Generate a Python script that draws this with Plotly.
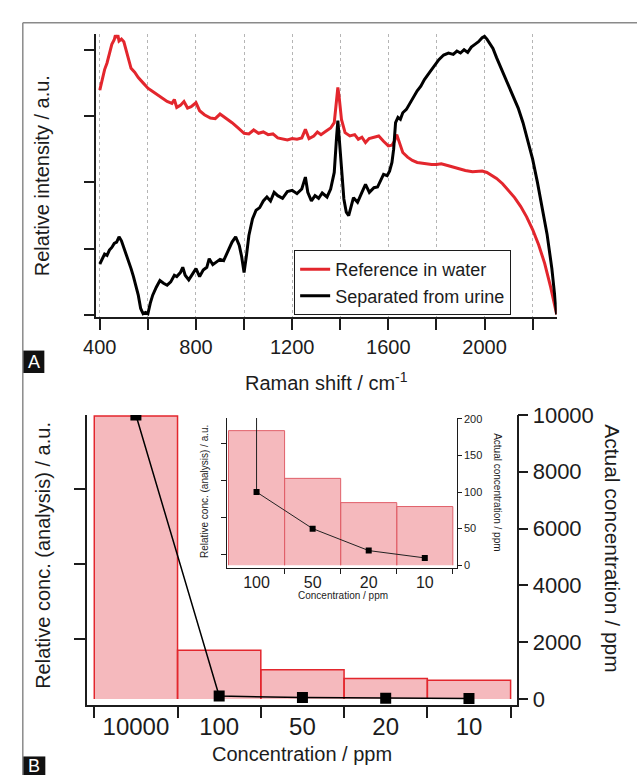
import plotly.graph_objects as go

# ---------------- data ----------------
# Panel A: Raman spectra (relative intensity, a.u.)
ref_x = [400, 410, 420, 430, 440, 450, 460, 465, 470, 475, 480, 490, 500, 510, 520, 530, 545, 560, 580, 600,
         620, 640, 660, 680, 700, 710, 720, 735, 750, 765, 780, 800, 815, 835, 860, 880, 900, 920, 950, 975,
         1000, 1020, 1040, 1060, 1080, 1100, 1120, 1140, 1160, 1180, 1200, 1220, 1240, 1255, 1270, 1290, 1305,
         1320, 1340, 1360, 1375, 1385, 1390, 1395, 1405, 1420, 1440, 1460, 1475, 1490, 1505, 1520, 1545, 1560,
         1580, 1600, 1615, 1625, 1635, 1645, 1660, 1680, 1700, 1720, 1750, 1780, 1800, 1820, 1850, 1880, 1900,
         1920, 1950, 1970, 1990, 2010, 2030, 2050, 2075, 2100, 2125, 2150, 2175, 2200, 2225, 2250, 2275, 2300]
ref_y = [3.39, 3.55, 3.70, 3.80, 3.95, 4.08, 4.15, 4.22, 4.18, 4.22, 4.13, 4.16, 4.12, 3.98, 3.85, 3.72, 3.66, 3.58, 3.50, 3.42,
         3.37, 3.32, 3.26, 3.22, 3.19, 3.25, 3.13, 3.16, 3.22, 3.12, 3.14, 3.20, 3.08, 3.02, 2.97, 2.96, 3.03, 2.98, 2.90, 2.82,
         2.74, 2.73, 2.79, 2.74, 2.76, 2.72, 2.73, 2.67, 2.65, 2.64, 2.66, 2.65, 2.67, 2.80, 2.66, 2.70, 2.76,
         2.72, 2.77, 2.82, 2.90, 3.30, 3.43, 3.30, 2.95, 2.75, 2.70, 2.72, 2.65, 2.68, 2.60, 2.66, 2.68, 2.70,
         2.62, 2.55, 2.56, 2.62, 2.72, 2.60, 2.45, 2.38, 2.33, 2.30, 2.28, 2.27, 2.27, 2.28, 2.25, 2.22, 2.19,
         2.18, 2.16, 2.17, 2.17, 2.15, 2.11, 2.06, 1.98, 1.88, 1.77, 1.64, 1.48, 1.29, 1.06, 0.78, 0.42, 0.01]

urine_x = [400, 410, 420, 430, 440, 450, 460, 470, 480, 490, 500, 510, 520, 530, 540, 550, 560, 570, 580, 590,
           600, 610, 620, 635, 650, 665, 680, 695, 710, 720, 735, 745, 755, 770, 785, 800, 815, 830, 845, 855,
           870, 885, 900, 915, 930, 950, 965, 980, 990, 1000, 1010, 1020, 1035, 1050, 1065, 1080, 1095, 1110,
           1125, 1140, 1160, 1180, 1200, 1220, 1240, 1255, 1265, 1280, 1295, 1310, 1325, 1345, 1360, 1375, 1385,
           1390, 1395, 1405, 1415, 1425, 1435, 1455, 1472, 1490, 1505, 1521, 1540, 1555, 1570, 1580, 1595, 1605,
           1615, 1622, 1630, 1640, 1650, 1660, 1675, 1690, 1705, 1720, 1735, 1750, 1770, 1790, 1810, 1830, 1850,
           1870, 1885, 1900, 1915, 1930, 1945, 1960, 1975, 1990, 2000, 2010, 2020, 2035, 2050, 2065, 2080, 2100,
           2120, 2140, 2160, 2180, 2200, 2220, 2240, 2260, 2280, 2300]
urine_y = [0.77, 0.86, 0.92, 0.90, 0.98, 1.02, 1.08, 1.10, 1.18, 1.12, 1.02, 0.92, 0.82, 0.70, 0.58, 0.44, 0.30, 0.10, 0.02, 0.04,
           0.02, 0.18, 0.30, 0.42, 0.52, 0.48, 0.45, 0.50, 0.60, 0.58, 0.64, 0.72, 0.60, 0.53, 0.62, 0.70, 0.58, 0.68, 0.72, 0.85,
           0.76, 0.80, 0.84, 0.82, 0.95, 1.10, 1.18, 1.05, 0.88, 0.64, 0.90, 1.20, 1.45, 1.58, 1.62, 1.72, 1.78, 1.72,
           1.85, 1.80, 1.76, 1.86, 1.88, 1.83, 1.90, 2.08, 1.85, 1.72, 1.80, 1.76, 1.84, 1.78, 1.90, 2.15, 2.70,
           2.93, 2.70, 2.20, 1.75, 1.55, 1.50, 1.77, 1.70, 1.85, 1.97, 1.85, 1.92, 1.93, 2.05, 2.12, 2.10, 2.17,
           2.30, 2.50, 2.90, 2.98, 2.95, 3.05, 3.10, 3.20, 3.30, 3.38, 3.45, 3.55, 3.65, 3.75, 3.85, 3.92, 3.95,
           3.93, 3.98, 3.95, 4.00, 3.96, 4.04, 4.08, 4.12, 4.18, 4.20, 4.16, 4.10, 4.02, 3.88, 3.75, 3.62, 3.45,
           3.28, 3.12, 2.90, 2.62, 2.35, 2.00, 1.62, 1.22, 0.70, 0.01]

x_major_a = [400, 800, 1200, 1600, 2000]
x_minor_a = [600, 1000, 1400, 1800, 2200]

# Panel B: concentration series
conc_labels = ["10000", "100", "50", "20", "10"]
rel_conc = [1.0, 0.172, 0.103, 0.072, 0.066]          # relative conc. (analysis) / a.u.
actual_conc = [10000, 100, 50, 20, 10]                # actual concentration / ppm
inset_labels = ["100", "50", "20", "10"]
inset_rel_conc = [0.172, 0.111, 0.080, 0.075]
right_ticks = [0, 2000, 4000, 6000, 8000, 10000]
inset_right_ticks = [0, 50, 100, 150, 200]

# ---------------- layout helpers ----------------
W, H = 637, 782
FONT = "Liberation Sans, Arial, sans-serif"
INK = "#1c1c1c"
RED = "#e3262d"
PINK = "#f5b9bd"


def px(x):
    return x / W


def py(y):
    return 1 - y / H


fig = go.Figure()

# ----- Panel A -----
fig.add_trace(go.Scatter(x=ref_x, y=ref_y, mode="lines", name="Reference in water",
                         line=dict(color=RED, width=3), xaxis="x", yaxis="y"))
fig.add_trace(go.Scatter(x=urine_x, y=urine_y, mode="lines", name="Separated from urine",
                         line=dict(color="#000000", width=3), xaxis="x", yaxis="y"))

# ----- Panel B main -----
idx = list(range(len(conc_labels)))


def outline(values):
    xs, ys = [], []
    for i, v in enumerate(values):
        xs += [i - 0.5, i - 0.5, i + 0.5, i + 0.5, None]
        ys += [0, v, v, 0, None]
    return xs, ys


fig.add_trace(go.Bar(x=idx, y=rel_conc, width=1, marker=dict(color=PINK, line=dict(width=0)),
                     xaxis="x2", yaxis="y3", showlegend=False))
ox, oy = outline(rel_conc)
fig.add_trace(go.Scatter(x=ox, y=oy, mode="lines", line=dict(color=RED, width=1.5),
                         xaxis="x2", yaxis="y3", showlegend=False, hoverinfo="skip"))
fig.add_trace(go.Scatter(x=idx, y=actual_conc, mode="lines+markers",
                         line=dict(color="#000", width=1.5),
                         marker=dict(symbol="square", size=11, color="#000"),
                         xaxis="x2", yaxis="y4", showlegend=False))

# ----- Inset -----
iidx = list(range(len(inset_labels)))
fig.add_trace(go.Bar(x=iidx, y=inset_rel_conc, width=1, marker=dict(color=PINK, line=dict(width=0)),
                     xaxis="x4", yaxis="y5", showlegend=False))
ix, iy = outline(inset_rel_conc)
fig.add_trace(go.Scatter(x=ix, y=iy, mode="lines", line=dict(color="#e0606a", width=1),
                         xaxis="x4", yaxis="y5", showlegend=False, hoverinfo="skip"))
# the 10000 ppm point lies far above the inset range; it shares the first inset position
inset_line_x = [0] + iidx
fig.add_trace(go.Scatter(x=inset_line_x, y=actual_conc, mode="lines+markers",
                         line=dict(color="#222", width=1),
                         marker=dict(symbol="square", size=6, color="#000"),
                         xaxis="x4", yaxis="y6", showlegend=False))

axis_common = dict(showline=True, linecolor=INK, linewidth=1.5, tickcolor=INK, tickwidth=1.5,
                   zeroline=False, showgrid=False, tickfont=dict(family=FONT, color=INK))
thin = {**axis_common, "linewidth": 1, "tickwidth": 1}

main_bar_px = 290.0  # pixel height of the unit bar (for axis ranges)

fig.update_layout(
    width=W, height=H, margin=dict(l=0, r=0, t=0, b=0),
    paper_bgcolor="white", plot_bgcolor="rgba(0,0,0,0)",
    font=dict(family=FONT, color=INK),
    showlegend=True,
    legend=dict(x=px(287), y=py(244), xanchor="left", yanchor="top",
                bordercolor=INK, borderwidth=1, bgcolor="white",
                font=dict(size=18, family=FONT, color=INK), tracegroupgap=0, itemwidth=30),
    xaxis=dict(**{**axis_common, "showgrid": True}, domain=[px(85), px(555)], range=[385.3, 2300], anchor="y",
               tickmode="array", tickvals=x_major_a, ticktext=[str(v) for v in x_major_a],
               ticks="outside", ticklen=11,
               gridcolor="#b5b5b5", griddash="dot", gridwidth=1,
               minor=dict(tickmode="array", tickvals=x_minor_a, ticks="outside", ticklen=11, tickwidth=1.5,
                          tickcolor=INK, showgrid=True, gridcolor="#b5b5b5", griddash="dot", gridwidth=1)),
    yaxis=dict(**axis_common, domain=[py(313), py(23)], range=[-0.035, 4.23], anchor="x",
               tickmode="array", tickvals=[0, 1, 2, 3, 4], showticklabels=False, ticks="outside", ticklen=11),
    xaxis2=dict(**axis_common, domain=[px(76), px(514)], range=[-0.582, 4.571], anchor="y3",
                tickmode="array", tickvals=idx, ticktext=conc_labels, ticks="",
                minor=dict(tickmode="array", tickvals=[i - 0.5 for i in idx] + [len(idx) - 0.5],
                           ticks="outside", ticklen=12, tickwidth=1.5, tickcolor=INK, showgrid=False)),
    yaxis3=dict(**axis_common, domain=[py(710), py(413)], range=[-6 / main_bar_px, 291 / main_bar_px], anchor="x2",
                tickmode="array", tickvals=[0.21, 0.476, 0.741], showticklabels=False, ticks="outside", ticklen=12),
    yaxis4=dict(**axis_common, overlaying="y3", side="right", anchor="x2", range=[-206, 10000],
                tickmode="array", tickvals=right_ticks, ticktext=[str(v) for v in right_ticks],
                ticks="outside", ticklen=10),
    xaxis4=dict(**thin, domain=[px(218), px(453)], range=[-0.535, 3.57],
                anchor="y5", tickmode="array", tickvals=iidx, ticktext=inset_labels, ticks="",
                ticklabelstandoff=0,
                minor=dict(tickmode="array", tickvals=[i + 0.5 for i in iidx],
                           ticks="outside", ticklen=5, tickwidth=1, tickcolor=INK, showgrid=False)),
    yaxis5=dict(**thin, domain=[py(570), py(416)],
                range=[-3 / 802, 151 / 802], anchor="x4",
                tickmode="array", tickvals=[0.0137, 0.0611, 0.1085, 0.156], showticklabels=False,
                ticks="outside", ticklen=5),
    yaxis6=dict(**thin, overlaying="y5", side="right", anchor="x4",
                range=[-4, 201.3], tickmode="array", tickvals=inset_right_ticks,
                ticktext=[str(v) for v in inset_right_ticks], ticks="outside", ticklen=4),
)
fig.update_layout(
    xaxis=dict(tickfont=dict(size=20)),
    xaxis2=dict(tickfont=dict(size=24)),
    yaxis4=dict(tickfont=dict(size=22)),
    xaxis4=dict(tickfont=dict(size=16)),
    yaxis6=dict(tickfont=dict(size=11)),
)

annotations = [
    dict(text="Raman shift / cm<sup>-1</sup>", x=px(320), y=py(379), font=dict(size=20)),
    dict(text="Relative intensity / a.u.", x=px(30), y=py(168), textangle=-90, font=dict(size=20)),
    dict(text="Concentration / ppm", x=px(295), y=py(760), font=dict(size=20)),
    dict(text="Relative conc. (analysis) / a.u.", x=px(31), y=py(557), textangle=-90, font=dict(size=20)),
    dict(text="Actual concentration / ppm", x=px(612), y=py(550), textangle=90, font=dict(size=21)),
    dict(text="Concentration / ppm", x=px(337), y=py(598), font=dict(size=10)),
    dict(text="Relative conc. (analysis) / a.u.", x=px(195), y=py(492), textangle=-90, font=dict(size=10)),
    dict(text="Actual concentration / ppm", x=px(495), y=py(492), textangle=90, font=dict(size=10)),
    dict(text="A", x=px(21), y=py(358.5), font=dict(size=18, color="white")),
    dict(text="B", x=px(21.5), y=py(773), font=dict(size=18, color="white")),
]
for a in annotations:
    a.update(xref="paper", yref="paper", showarrow=False, xanchor="center", yanchor="middle")
    a["font"] = {"family": FONT, "color": INK, **a["font"]}
fig.update_layout(annotations=annotations)

shapes = [
    dict(type="line", x0=px(10), x1=px(10), y0=py(782), y1=py(11), line=dict(color="#8a8a8a", width=1.5)),
    dict(type="line", x0=px(10), x1=px(637), y0=py(11), y1=py(11), line=dict(color="#8a8a8a", width=1.5)),
    dict(type="rect", x0=px(10), x1=px(32), y0=py(370), y1=py(347), fillcolor="#111", line=dict(width=0)),
    dict(type="rect", x0=px(10), x1=px(33), y0=py(782), y1=py(763), fillcolor="#111", line=dict(width=0)),
]
for s in shapes:
    s.update(xref="paper", yref="paper", layer="below" if s["type"] == "rect" else "above")
fig.update_layout(shapes=shapes)

fig.write_html("out.html")
